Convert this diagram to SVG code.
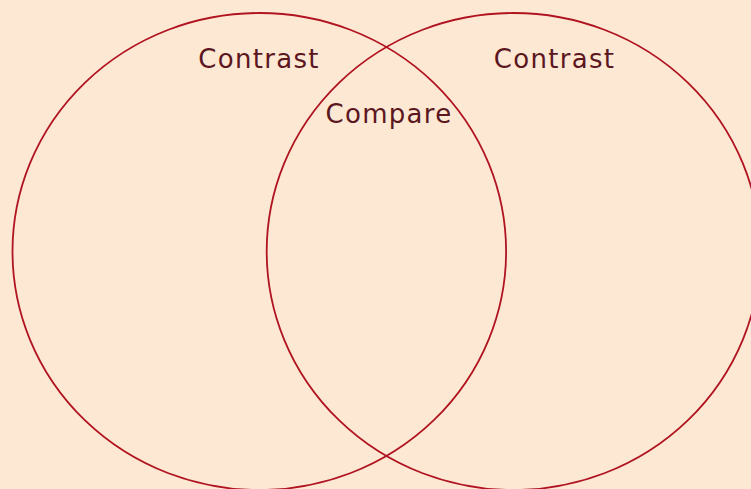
<svg xmlns="http://www.w3.org/2000/svg" width="751" height="489" viewBox="0 0 751 489">
<style>
.set{fill:none;stroke:#b01420;stroke-width:1.8}
.lbl{font-family:"DejaVu Sans","Liberation Sans",sans-serif;font-size:26px;fill:#5c1620;text-anchor:middle;letter-spacing:1.3px}
</style>
<rect width="751" height="489" fill="#fde8d4"/>
<g id="setA">
<ellipse class="set" cx="259.3" cy="251.5" rx="246.8" ry="238.5"/>
<text class="lbl" x="259" y="67.7">Contrast</text>
</g>
<g id="setB">
<ellipse class="set" cx="513.5" cy="251.5" rx="246.8" ry="238.5"/>
<text class="lbl" x="554.5" y="67.7">Contrast</text>
</g>
<g id="overlap">
<text class="lbl" x="389" y="123.3">Compare</text>
</g>
<g id="connectors"/>
</svg>
